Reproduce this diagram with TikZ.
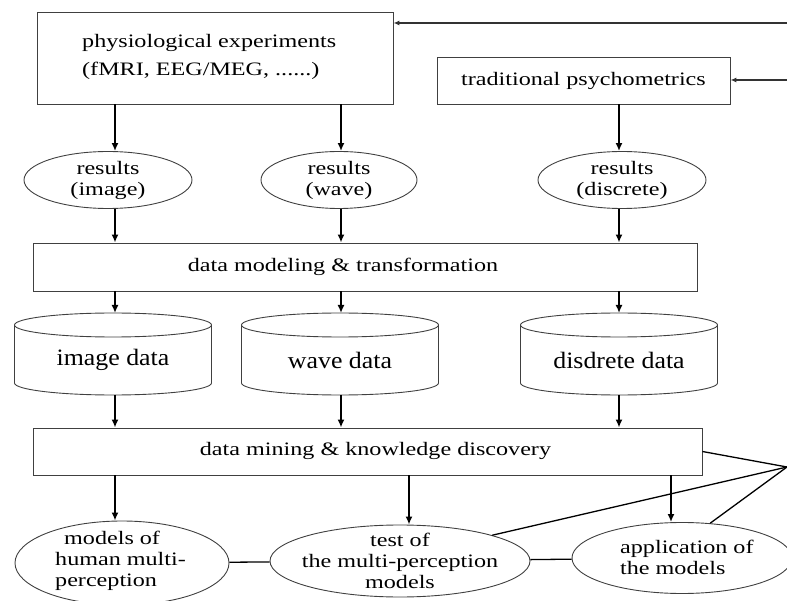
\documentclass[tikz,border=0pt]{standalone}
\usepackage{fontspec}
\setmainfont{Liberation Serif}[FakeStretch=1.27]
\newfontfamily\cylfont{Liberation Serif}[FakeStretch=1.1]
\usetikzlibrary{arrows.meta,shapes.geometric}
\newcommand\mycyl[3]{%
  \draw[cylline] (#2-98.5,-325) -- (#2-98.5,-383) arc[start angle=180,end angle=360,x radius=98.5pt,y radius=12pt] -- (#2+98.5,-325);
  \draw[cylline] (#2,-325) ellipse[x radius=98.5pt,y radius=12pt];
  \node[txt, font=\cylfont\fontsize{23.5}{26}\selectfont] (#1) at (#2,-360) {#3};
  \coordinate (#1t) at (#2,-313);
  \coordinate (#1b) at (#2,-395);}
\begin{document}
\begin{tikzpicture}[x=1pt,y=1pt,
  txt/.style={font=\fontsize{19}{21}\selectfont, inner sep=0pt, align=center},
  box/.style={draw=black!75, line width=0.9pt, rectangle, inner sep=0pt, txt},
  ell/.style={draw=black!75, line width=0.9pt, ellipse, inner sep=0pt},
  cylline/.style={draw=black!75, line width=0.9pt},
  arr/.style={-{Latex[length=8pt,width=7pt]}, line width=1.8pt},
  harr/.style={-{Latex[length=6pt,width=5pt]}, line width=1.3pt, draw=black!80},
  conn/.style={line width=1.3pt}]
\useasboundingbox (0,0) rectangle (787,-601);

% columns
\coordinate (c1) at (115,0);
\coordinate (c2) at (341,0);
\coordinate (c3) at (619,0);
\coordinate (d1) at (115,0);
\coordinate (d2) at (409,0);
\coordinate (d3) at (671,0);

% top boxes
\node[box, minimum width=356pt, minimum height=92pt] (phys) at (215,-58) {};
\node[txt, anchor=west, align=left, font=\fontsize{19}{28}\selectfont] (physt) at (82,-57) {physiological experiments\\(fMRI, EEG/MEG, ......)};
\node[box, minimum width=293pt, minimum height=47pt] (psych) at (583.5,-80.5) {traditional psychometrics};

\coordinate (Q1) at (787,-23);
\coordinate (Q2) at (787,-80);
\draw[harr] (Q1) -- (phys.east |- Q1);
\draw[harr] (Q2) -- (psych.east |- Q2);

% results ellipses
\node[ell, minimum width=168pt, minimum height=57pt, label={[txt]center:{results\\(image)}}] (r1) at (108,-180) {};
\node[ell, minimum width=156pt, minimum height=57pt, label={[txt]center:{results\\(wave)}}] (r2) at (339,-180) {};
\node[ell, minimum width=168pt, minimum height=57pt, label={[txt]center:{results\\(discrete)}}] (r3) at (622,-180) {};

\draw[arr] (phys.south -| c1) -- (r1.north -| c1);
\draw[arr] (phys.south -| c2) -- (r2.north -| c2);
\draw[arr] (psych.south -| c3) -- (r3.north -| c3);

% data modeling
\node[box, minimum width=664pt, minimum height=48pt] (dm) at (365,-267) {};
\node[txt] (dmt) at (343,-267) {data modeling \& transformation};
\draw[arr] (r1.south -| c1) -- (dm.north -| c1);
\draw[arr] (r2.south -| c2) -- (dm.north -| c2);
\draw[arr] (r3.south -| c3) -- (dm.north -| c3);

% cylinders
\mycyl{cy1}{113}{image data}
\mycyl{cy2}{340}{wave data}
\mycyl{cy3}{619}{disdrete data}

\draw[arr] (dm.south -| c1) -- (cy1t -| c1);
\draw[arr] (dm.south -| c2) -- (cy2t -| c2);
\draw[arr] (dm.south -| c3) -- (cy3t -| c3);

% data mining
\node[box, minimum width=669pt, minimum height=47pt] (dk) at (367.5,-451.5) {};
\node[txt] (dkt) at (375.5,-451) {data mining \& knowledge discovery};
\draw[arr] (cy1b -| c1) -- (dk.north -| c1);
\draw[arr] (cy2b -| c2) -- (dk.north -| c2);
\draw[arr] (cy3b -| c3) -- (dk.north -| c3);

% bottom ellipses
\node[ell, minimum width=214pt, minimum height=84pt] (m1) at (122,-563) {};
\node[txt, anchor=west, align=left] (m1t) at (55,-561) {\hspace*{9pt}models of\\human multi-\\perception};
\node[ell, minimum width=260pt, minimum height=72pt, label={[txt]center:{test of\\the multi-perception\\models}}] (m2) at (400,-561) {};
\node[ell, minimum width=220pt, minimum height=71pt] (m3) at (682,-558) {};
\node[txt, anchor=west, align=left] (m3t) at (620,-557) {application of\\the models};

\draw[arr] (dk.south -| d1) -- (m1.north -| d1);
\draw[arr] (dk.south -| d2) -- (m2.north -| d2);
\draw[arr] (dk.south -| d3) -- (m3.north -| d3);

\draw[conn] (m1) -- (m2);
\draw[conn] (m2) -- (m3);

\coordinate (P) at (787,-467);
\draw[conn] (P) -- (dk.east);
\draw[conn] (P) -- (m2.north east);
\draw[conn] (P) -- (m3.51);
\end{tikzpicture}
\end{document}
